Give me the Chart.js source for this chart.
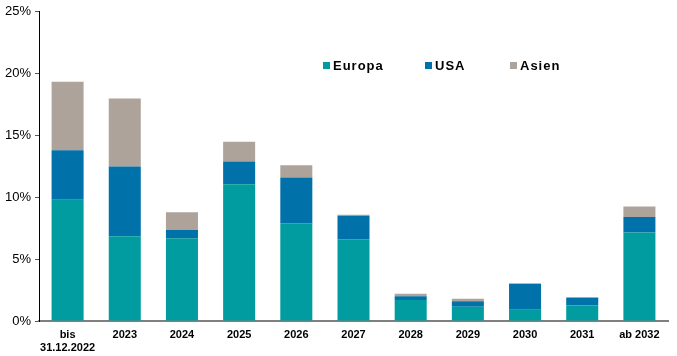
<!DOCTYPE html>
<html><head><meta charset="utf-8">
<script src="https://cdn.jsdelivr.net/npm/chart.js@4"></script>
<style>html,body{margin:0;padding:0;background:#fff}#wrap{width:677px;height:356px}</style>
</head><body><div id="wrap"><canvas id="c"></canvas></div>
<script>
const categories = [['bis','31.12.2022'],'2023','2024','2025','2026','2027','2028','2029','2030','2031','ab 2032'];
const europa = [9.8, 6.85, 6.7, 11.05, 7.9, 6.6, 1.7, 1.15, 0.9, 1.25, 7.15];
const usa    = [4.0, 5.65, 0.65, 1.85, 3.7, 1.9, 0.3, 0.45, 2.1, 0.65, 1.25];
const asien  = [5.55, 5.5, 1.45, 1.6, 1.0, 0.1, 0.2, 0.2, 0.05, 0.0, 0.85];
const yTicks = [0, 5, 10, 15, 20, 25];
const seriesNames = ['Europa','USA','Asien'];
const colors = ['#009C9F','#0071A9','#ADA39A'];

const legendPlugin = {
  id: 'innerLegend',
  afterDraw(chart) {
    const ctx = chart.ctx;
    const xs = [323, 425, 510];
    const y = 65;
    ctx.save();
    ctx.font = 'bold 13px "Liberation Sans", Arial, sans-serif';
    ctx.textBaseline = 'middle';
    chart.data.datasets.forEach((ds, i) => {
      ctx.fillStyle = ds.backgroundColor;
      ctx.fillRect(xs[i], y - 3, 7, 7);
      ctx.fillStyle = '#000';
      if (ctx.letterSpacing !== undefined) ctx.letterSpacing = '1px';
      ctx.fillText(ds.label, xs[i] + 10, y + 1);
    });
    ctx.restore();
  }
};

new Chart(document.getElementById('c'), {
  type: 'bar',
  data: {
    labels: categories,
    datasets: [
      {label: seriesNames[0], data: europa, backgroundColor: colors[0]},
      {label: seriesNames[1], data: usa, backgroundColor: colors[1]},
      {label: seriesNames[2], data: asien, backgroundColor: colors[2]}
    ]
  },
  options: {
    responsive: true,
    maintainAspectRatio: false,
    animation: false,
    layout: {padding: {top: 11, right: 9, left: 0, bottom: 0}},
    plugins: {legend: {display: false}, tooltip: {enabled: false}},
    datasets: {bar: {categoryPercentage: 1.0, barPercentage: 0.56}},
    scales: {
      x: {
        stacked: true,
        grid: {display: false, drawTicks: false},
        border: {display: true, color: '#7f7f7f', width: 2},
        ticks: {
          color: '#000',
          font: {family: '"Liberation Sans", Arial, sans-serif', size: 11, weight: 'bold', lineHeight: 1.2},
          padding: 7,
          maxRotation: 0,
          autoSkip: false
        },
        afterFit(s) { s.height = 35; }
      },
      y: {
        stacked: true,
        min: 0, max: 25,
        afterBuildTicks(s) { s.ticks = yTicks.map(v => ({value: v})); },
        grid: {display: true, drawOnChartArea: false, drawTicks: true, tickLength: 4, color: '#555'},
        border: {display: true, color: '#000', width: 1},
        ticks: {
          color: '#000',
          font: {family: '"Liberation Sans", Arial, sans-serif', size: 13},
          padding: 4,
          callback: v => v + '%'
        },
        afterFit(s) { s.width = 39; }
      }
    }
  },
  plugins: [legendPlugin]
});
</script>
</body></html>
